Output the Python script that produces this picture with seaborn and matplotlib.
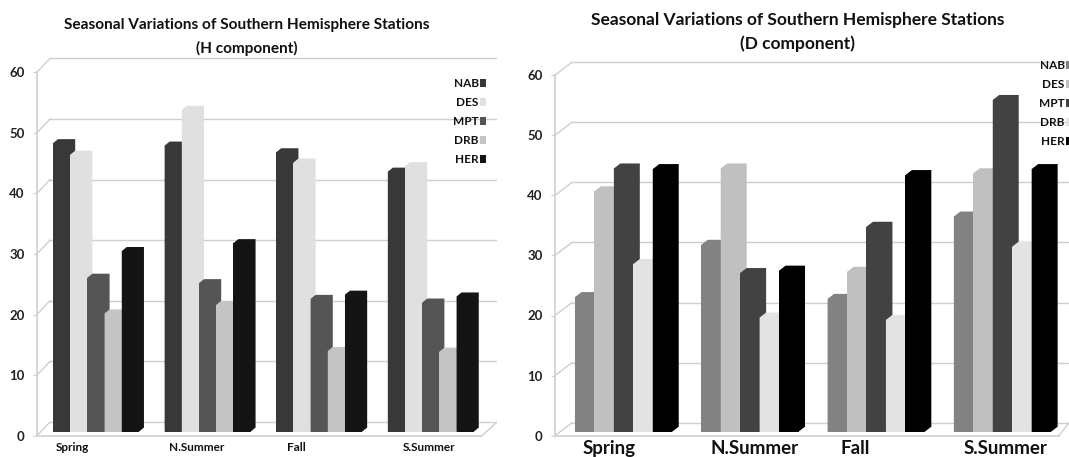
"""Seasonal variations of southern hemisphere stations, H and D components."""

import matplotlib.pyplot as plt
from matplotlib.patches import Patch, Polygon
import pandas as pd
import seaborn as sns

SEASONS = ["Spring", "N.Summer", "Fall", "S.Summer"]
STATIONS = ["NAB", "DES", "MPT", "DRB", "HER"]
Y_TICKS = [0, 10, 20, 30, 40, 50, 60]

H_NAB = [47.6, 47.2, 46.1, 42.9]
H_DES = [45.7, 53.1, 44.4, 43.8]
H_MPT = [25.4, 24.5, 21.9, 21.3]
H_DRB = [19.5, 20.9, 13.3, 13.2]
H_HER = [29.8, 31.1, 22.6, 22.3]

D_NAB = [22.4, 31.1, 22.1, 35.8]
D_DES = [40.0, 43.8, 26.6, 43.0]
D_MPT = [43.8, 26.4, 34.1, 55.2]
D_DRB = [27.9, 19.0, 18.6, 30.8]
D_HER = [43.7, 26.8, 42.7, 43.7]

H_COLORS = ["#383838", "#e0e0e0", "#555555", "#c4c4c4", "#141414"]
D_COLORS = ["#828282", "#c0c0c0", "#424242", "#e3e3e3", "#000000"]

FIG_W, FIG_H = 1069, 457
GRID = "#cfcfcf"

plt.rcParams["font.family"] = ["Lato", "DejaVu Sans"]
plt.rcParams["font.weight"] = "bold"


def draw_panel(fig, series, colors, title, geom):
    """Fake Excel-style 3D bars: flat seaborn bars plus a depth polygon on each one."""
    df = pd.DataFrame(
        [
            {"season": s, "station": st, "value": v}
            for st, vals in zip(STATIONS, series)
            for s, v in zip(SEASONS, vals)
        ]
    )

    px_left, px_right = geom["left"], geom["right"]
    px_top, px_bottom = 50, 442
    ax = fig.add_axes(
        [
            px_left / FIG_W,
            1 - px_bottom / FIG_H,
            (px_right - px_left) / FIG_W,
            (px_bottom - px_top) / FIG_H,
        ]
    )
    sns.barplot(
        data=df,
        x="season",
        y="value",
        hue="station",
        order=SEASONS,
        hue_order=STATIONS,
        palette=colors,
        width=geom["width"],
        gap=0,
        saturation=1,
        legend=False,
        err_kws={"linewidth": 0},
        ax=ax,
    )

    # pixel -> data scale
    step, yscale = geom["step"], geom["yscale"]
    x_of = lambda px: (px - geom["center"]) / step
    y_of = lambda px: (geom["base"] - px) / yscale
    ax.set_xlim(x_of(px_left), x_of(px_right))
    ax.set_ylim(y_of(px_bottom), y_of(px_top))
    dx = geom["dx"] / step
    dy = geom["dy"] / yscale

    for i, container in enumerate(ax.containers):
        for bar in container:
            bar.set_zorder(3 + i)
            bar.set_linewidth(0)
            x0, x1 = bar.get_x(), bar.get_x() + bar.get_width()
            v = bar.get_height()
            ax.add_patch(
                Polygon(
                    [
                        (x0, 0),
                        (x0, v),
                        (x0 + dx, v + dy),
                        (x1 + dx, v + dy),
                        (x1 + dx, dy),
                        (x1, 0),
                    ],
                    closed=True,
                    facecolor=colors[i],
                    edgecolor="none",
                    zorder=3 + i,
                )
            )

    # walls and floor
    front = y_of(geom["front0"])
    back = y_of(geom["back0"])
    x_front, x_back = x_of(geom["left"]), x_of(geom["back_left"])
    x_end = x_of(geom["right"])
    x_floor = x_of(geom["floor_right"])
    for t in Y_TICKS:
        ax.plot([x_front, x_back], [t + front, t + back], color=GRID, lw=1, zorder=1)
        ax.plot([x_back, x_end], [t + back, t + back], color=GRID, lw=1, zorder=1)
    ax.plot([x_front, x_front], [front, 60 + front], color=GRID, lw=1.2, zorder=1, clip_on=False)
    ax.plot([x_front, x_floor], [front, front], color=GRID, lw=1.2, zorder=2)
    ax.plot([x_floor, x_end], [front, back], color=GRID, lw=1, zorder=1)

    for side in ["top", "right", "bottom", "left"]:
        ax.spines[side].set_visible(False)
    ax.patch.set_alpha(0)

    ax.set_yticks([t + front for t in Y_TICKS])
    ax.set_yticklabels(Y_TICKS, fontsize=geom["tick_size"], color="#222222")
    ax.tick_params(axis="y", length=3, color=GRID, pad=geom["tick_pad"])
    ax.set_xticks([x_of(px) for px in geom["label_px"]])
    ax.set_xticklabels(SEASONS, fontsize=geom["label_size"], color="#111111")
    ax.tick_params(axis="x", length=0, pad=geom["label_pad"])
    ax.set_xlabel("")
    ax.set_ylabel("")

    fig.text(
        geom["title_x"] / FIG_W,
        1 - geom["title_y"] / FIG_H,
        title,
        ha="center",
        va="center",
        fontsize=geom["title_size"],
        fontweight="bold",
        color="#111111",
        linespacing=geom["title_space"],
    )

    handles = [Patch(facecolor=c, edgecolor="none", label=s) for c, s in zip(colors, STATIONS)]
    leg = fig.legend(
        handles=handles,
        loc="upper left",
        bbox_to_anchor=(geom["legend_x"] / FIG_W, 1 - geom["legend_y"] / FIG_H),
        frameon=False,
        markerfirst=False,
        handlelength=0.5,
        handleheight=0.6,
        handletextpad=0.15,
        labelspacing=geom["legend_space"],
        borderpad=0,
        borderaxespad=0,
        fontsize=geom["legend_size"],
    )
    for text in leg.get_texts():
        text.set_color("#111111")
    return ax


GEOM_H = {
    "left": 37, "right": 497, "back_left": 50, "floor_right": 482,
    "center": 96, "step": 111.6, "width": 0.77, "base": 431.6, "yscale": 6.06,
    "front0": 435.7, "back0": 422, "dx": 5, "dy": 4,
    "label_px": [72, 197, 296, 429], "label_size": 8.5, "label_pad": 0,
    "tick_size": 9.5, "tick_pad": 6,
    "title_x": 247, "title_y": 37, "title_size": 11.1, "title_space": 1.75,
    "legend_x": 453, "legend_y": 78, "legend_space": 0.68, "legend_size": 8.5,
}
GEOM_D = {
    "left": 555, "right": 1069, "back_left": 572, "floor_right": 1059,
    "center": 623.6, "step": 126.3, "width": 0.77, "base": 431.7, "yscale": 6.01,
    "front0": 435.7, "back0": 422.7, "dx": 6.5, "dy": 5,
    "label_px": [609, 755, 855, 1005], "label_size": 13.5, "label_pad": -1.5,
    "tick_size": 9.5, "tick_pad": 6,
    "title_x": 798, "title_y": 32, "title_size": 12.5, "title_space": 1.58,
    "legend_x": 1039, "legend_y": 60, "legend_space": 0.68, "legend_size": 8.5,
}

fig = plt.figure(figsize=(FIG_W / 100, FIG_H / 100), dpi=100)
draw_panel(
    fig,
    [H_NAB, H_DES, H_MPT, H_DRB, H_HER],
    H_COLORS,
    "Seasonal Variations of Southern Hemisphere Stations\n(H component)",
    GEOM_H,
)
draw_panel(
    fig,
    [D_NAB, D_DES, D_MPT, D_DRB, D_HER],
    D_COLORS,
    "Seasonal Variations of Southern Hemisphere Stations\n(D component)",
    GEOM_D,
)
fig.savefig("out.png", dpi=100)
